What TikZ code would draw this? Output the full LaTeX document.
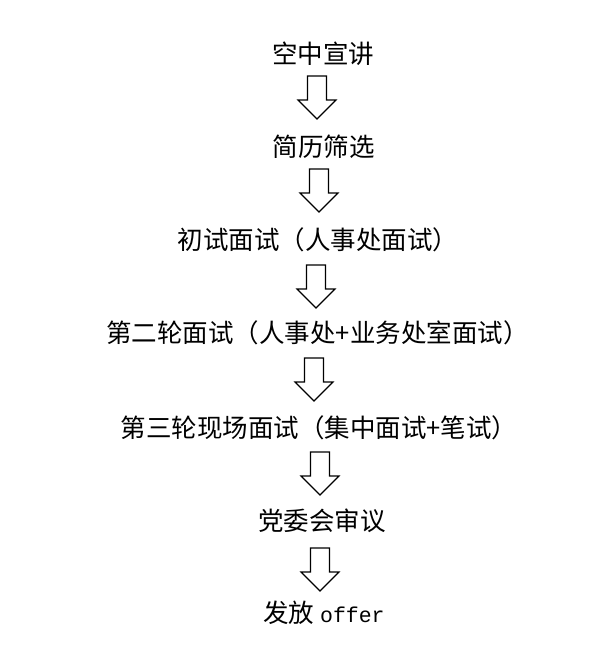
\documentclass[tikz,border=0pt]{standalone}
\usepackage{fontspec}
\newfontfamily\cjk{Noto Sans CJK SC}
\newfontfamily\latmono{Liberation Mono}
\tikzset{
  steptext/.style={inner sep=0pt, anchor=center, font=\cjk\fontsize{25.5bp}{28bp}\selectfont, text=black},
  downarrow/.pic={\draw[line width=1.2bp, line join=miter, fill=white]
      (-9.5,0) -- (9.5,0) -- (9.5,24) -- (19,24) -- (0,43) -- (-19,24) -- (-9.5,24) -- cycle;}
}
\begin{document}
\begin{tikzpicture}[x=1bp,y=-1bp]
\useasboundingbox (0,0) rectangle (610,663);
\node[steptext] (s1) at (323,54) {空中宣讲};
\node[steptext] (s2) at (323.5,147) {简历筛选};
\node[steptext] (s3) at (318,240) {初试面试（人事处面试）};
\node[steptext] (s4) at (317.5,333) {第二轮面试（人事处+业务处室面试）};
\node[steptext] (s5) at (319,428) {第三轮现场面试（集中面试+笔试）};
\node[steptext] (s6) at (322,521) {党委会审议};
\node[steptext] (s7) at (324,613) {发放 {\latmono\fontsize{21.5bp}{24bp}\selectfont offer}};
\pic at (317,76) {downarrow};
\pic at (319,169) {downarrow};
\pic at (316,265) {downarrow};
\pic at (314,358) {downarrow};
\pic at (320,452) {downarrow};
\pic at (320,548) {downarrow};
\end{tikzpicture}
\end{document}
